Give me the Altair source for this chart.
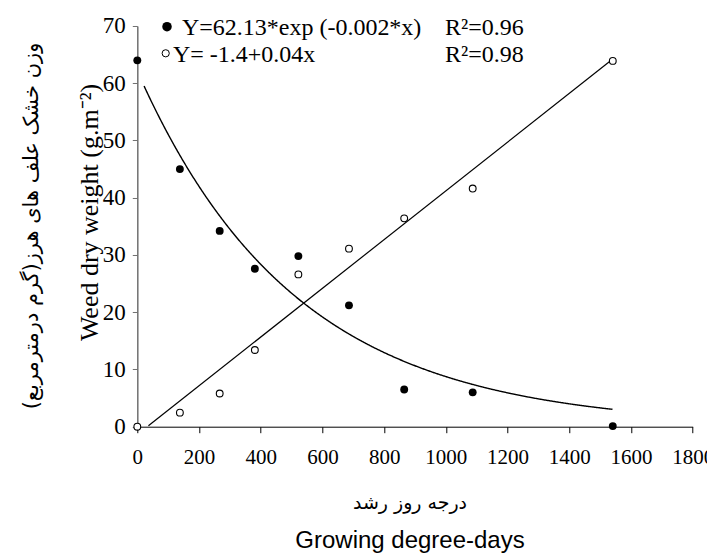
import altair as alt
import pandas as pd

# ---------------- data ----------------
gdd = [0, 138, 267, 381, 522, 686, 865, 1087, 1541]
weed_exp = [64.0, 45.0, 34.2, 27.6, 29.8, 21.2, 6.5, 6.0, 0.1]
weed_lin = [0.0, 2.45, 5.8, 13.4, 26.6, 31.1, 36.4, 41.6, 63.9]

x_ticks = [0, 200, 400, 600, 800, 1000, 1200, 1400, 1600, 1800]
y_ticks = [0, 10, 20, 30, 40, 50, 60, 70]

eq_exp = "Y=62.13*exp (-0.002*x)"
eq_lin = "Y= -1.4+0.04x"
r2_exp = "R²=0.96"
r2_lin = "R²=0.98"

exp_a = 62.13
exp_b = -0.00196
curve_range = [22, 1542]
lin_range = [36, 1541]

ytitle_en = "Weed dry weight (g.m⁻²)"
ytitle_fa = "وزن خشک علف های هرز(گرم درمترمربع)"
xtitle_fa = "درجه روز رشد"
xtitle_en = "Growing degree-days"

SERIF = "Liberation Serif"

# ---------------- chart ----------------
W, H = 555.4, 400.7
pts = pd.DataFrame({"gdd": gdd, "exp": weed_exp, "lin": weed_lin})

xs = alt.Scale(domain=[0, 1800], nice=False, zero=False)
ys = alt.Scale(domain=[0, 70], nice=False)

x_axis = alt.Axis(
    values=x_ticks, title=None, format="d",
    labelFont=SERIF, labelFontSize=21, labelColor="black", labelPadding=14,
    tickSize=6, tickColor="black", domainColor="black", tickWidth=1,
    domainWidth=1, grid=False, labelFlush=False, labelOverlap=False,
)
y_axis = alt.Axis(
    values=y_ticks, title=ytitle_en, format="d",
    titleFont=SERIF, titleFontSize=26, titleFontWeight="normal",
    titleColor="black", titleAngle=270, titleX=-39.8, titleY=186,
    titleBaseline="alphabetic", titleAlign="center",
    labelFont=SERIF, labelFontSize=23, labelColor="black", labelPadding=7,
    tickSize=5, tickColor="#707070", domainColor="#707070", domainWidth=1.5,
    grid=False, labelOverlap=False,
)

X = alt.X("gdd:Q", scale=xs, axis=x_axis)

exp_curve = (
    alt.Chart(alt.sequence(curve_range[0], curve_range[1], 2, as_="gdd"))
    .transform_calculate(fit=f"{exp_a}*exp({exp_b}*datum.gdd)")
    .mark_line(color="black", strokeWidth=1.4)
    .encode(x=X, y=alt.Y("fit:Q", scale=ys, axis=y_axis))
)

lin_line = (
    alt.Chart(pts)
    .transform_regression("gdd", "lin", method="linear", extent=lin_range)
    .mark_line(color="black", strokeWidth=1.2)
    .encode(x=X, y=alt.Y("lin:Q", scale=ys, axis=y_axis))
)

filled_pts = (
    alt.Chart(pts)
    .mark_circle(color="black", size=62, opacity=1)
    .encode(x=X, y=alt.Y("exp:Q", scale=ys, axis=y_axis))
)

open_pts = (
    alt.Chart(pts)
    .mark_circle(fill="white", stroke="black", strokeWidth=1.1, size=46,
                 opacity=1, fillOpacity=1)
    .encode(x=X, y=alt.Y("lin:Q", scale=ys, axis=y_axis))
)

one = alt.Data(values=[{"k": 1}])


def txt(text, x, y, font=SERIF, size=24, align="left",
        baseline="alphabetic", angle=0):
    return alt.Chart(one).mark_text(
        text=text, font=font, fontSize=size, align=align, baseline=baseline,
        angle=angle, color="black"
    ).encode(x=alt.value(x), y=alt.value(y))


def sym(x, y, filled, size):
    if filled:
        m = alt.Chart(one).mark_point(shape="circle", filled=True,
                                      color="black", size=size, opacity=1)
    else:
        m = alt.Chart(one).mark_point(shape="circle", filled=False,
                                      color="black", strokeWidth=1,
                                      size=size, opacity=1)
    return m.encode(x=alt.value(x), y=alt.value(y))


annotations = [
    sym(29.7, 0.7, True, 90),
    txt(eq_exp, 44.7, 9),
    txt(r2_exp, 307.7, 9),
    sym(28.4, 27.3, False, 52),
    txt(eq_lin, 35.7, 35.7),
    txt(r2_lin, 307.7, 35.7),
    txt(ytitle_fa, -105.3, 200, font="DejaVu Sans", size=21, align="center",
        baseline="middle", angle=270),
    txt(xtitle_fa, 272.7, 477, font="DejaVu Sans", size=19, align="center",
        baseline="middle"),
    txt(xtitle_en, 272.7, 522, font="Liberation Sans", size=24,
        align="center"),
]

chart = (
    alt.layer(exp_curve, lin_line, filled_pts, open_pts, *annotations)
    .properties(
        width=W, height=H,
        autosize=alt.AutoSizeParams(type="none"),
        padding={"left": 129.3, "top": 18, "right": 14.3, "bottom": 126},
    )
    .configure(
        font=SERIF,
        style={
            "guide-label": {"font": SERIF, "fill": "black"},
            "guide-title": {"font": SERIF, "fontWeight": "normal",
                            "fill": "black"},
        },
    )
    .configure_view(strokeWidth=0)
    .configure_axis(labelFont=SERIF, titleFont=SERIF,
                    titleFontWeight="normal")
)

chart.save("out.html", embed_options={"renderer": "svg", "actions": False})
